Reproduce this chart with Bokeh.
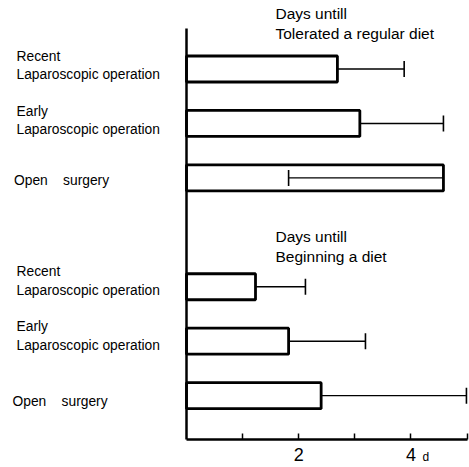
from bokeh.plotting import figure
from bokeh.models import Range1d, LinearAxis, FixedTicker, Label, ColumnDataSource
from bokeh.embed import file_html
from bokeh.resources import INLINE

# ---- data ----
panel_titles = ["Days untill\nTolerated a regular diet", "Days untill\nBeginning a diet"]
groups = ["Recent\nLaparoscopic operation", "Early\nLaparoscopic operation",
          "Open\u00a0\u00a0\u00a0\u00a0surgery"]
tolerated_mean = [2.69, 3.09, 4.58]
tolerated_err_end = [3.88, 4.58, 1.82]
beginning_mean = [1.23, 1.82, 2.40]
beginning_err_end = [2.12, 3.19, 4.99]
x_ticks = [1, 2, 3, 4, 5]
x_tick_labels = {1: "", 2: "2", 3: "", 4: "4", 5: ""}
unit_label = "d"

FONT = "Liberation Sans"

# ---- layout (pixel geometry of the canvas) ----
W, H = 469, 467
X0_PX, PX_PER_DAY = 186.0, 56.1      # x = 0 position, scale
ROW0_PX, SLOT_PX = 68.5, 54.44       # centre of first bar, row spacing
AXIS_TOP_PX, AXIS_BOT_PX = 28.0, 439.0


def xd(px):
    return (px - X0_PX) / PX_PER_DAY


def yd(px):
    return (ROW0_PX - px) / SLOT_PX


panel_offset = [0, 4]
ys, means, errs = [], [], []
for pi, (m, e) in enumerate([(tolerated_mean, tolerated_err_end),
                             (beginning_mean, beginning_err_end)]):
    for gi in range(len(groups)):
        ys.append(-(panel_offset[pi] + gi))
        means.append(m[gi])
        errs.append(e[gi])

cap_half = 8 / SLOT_PX
src = ColumnDataSource(dict(
    y=ys, mean=means, err=errs,
    cap_lo=[y - cap_half for y in ys], cap_hi=[y + cap_half for y in ys],
))

p = figure(width=W, height=H,
           x_range=Range1d(xd(0), xd(W)), y_range=Range1d(yd(H), yd(0)),
           output_backend="svg", toolbar_location=None,
           x_axis_location=None, y_axis_location=None,
           min_border=0)
p.xgrid.visible = False
p.ygrid.visible = False
p.outline_line_color = None
p.background_fill_color = "white"
p.border_fill_color = "white"

left_axis = LinearAxis(ticker=FixedTicker(ticks=[]), fixed_location=0,
                       bounds=(yd(AXIS_BOT_PX), yd(AXIS_TOP_PX)),
                       axis_line_width=2.5, axis_line_color="black",
                       major_tick_line_color=None, minor_tick_line_color=None,
                       major_label_text_font_size="0px")
p.add_layout(left_axis, "left")

bottom_axis = LinearAxis(ticker=FixedTicker(ticks=x_ticks),
                         fixed_location=yd(AXIS_BOT_PX), bounds=(0, 5),
                         major_label_overrides=x_tick_labels,
                         axis_line_width=2.5, axis_line_color="black",
                         major_tick_in=6, major_tick_out=0,
                         major_tick_line_width=1.5, major_tick_line_color="black",
                         minor_tick_line_color=None,
                         major_label_standoff=8,
                         major_label_text_font=FONT,
                         major_label_text_font_size="18px",
                         major_label_text_color="black")
p.add_layout(bottom_axis, "below")

# bars
p.hbar(y="y", left=0, right="mean", height=26 / SLOT_PX, source=src,
       fill_color="white", line_color="black", line_width=2.8)
# whiskers and caps
p.segment(x0="mean", y0="y", x1="err", y1="y", source=src,
          line_color="black", line_width=1.4)
p.segment(x0="err", y0="cap_lo", x1="err", y1="cap_hi", source=src,
          line_color="black", line_width=1.6)

# panel titles (cap-centre pixel rows of each line)
title_rows = [[12.8, 33.3], [236.0, 255.5]]
for t, rows in zip(panel_titles, title_rows):
    for line, r in zip(t.split("\n"), rows):
        p.add_layout(Label(x=xd(275), y=yd(r), text=line, text_font=FONT,
                           text_font_size="15.5px", text_baseline="middle",
                           text_align="left", text_color="black"))

# group labels: pixel offsets of each line from the bar centre
two_line_off = [[-12.3, 5.8], [-15.0, 3.9]]
one_line_off = [3.0, 5.8]
one_line_x = [13.5, 12.0]
for pi in range(len(panel_titles)):
    for gi, g in enumerate(groups):
        centre_px = ROW0_PX + (panel_offset[pi] + gi) * SLOT_PX
        lines = g.split("\n")
        if len(lines) == 2:
            offs, xpx = two_line_off[pi], 16.0
        else:
            offs, xpx = [one_line_off[pi]], one_line_x[pi]
        for line, o in zip(lines, offs):
            p.add_layout(Label(x=xd(xpx), y=yd(centre_px + o), text=line,
                               text_font=FONT, text_font_size="13.8px",
                               text_baseline="middle", text_align="left",
                               text_color="black"))

# unit label next to the "4"
p.add_layout(Label(x=xd(422), y=yd(456.5), text=unit_label, text_font=FONT,
                   text_font_size="12px", text_baseline="middle",
                   text_align="left", text_color="black"))

open("out.html", "w").write(file_html(p, INLINE))
